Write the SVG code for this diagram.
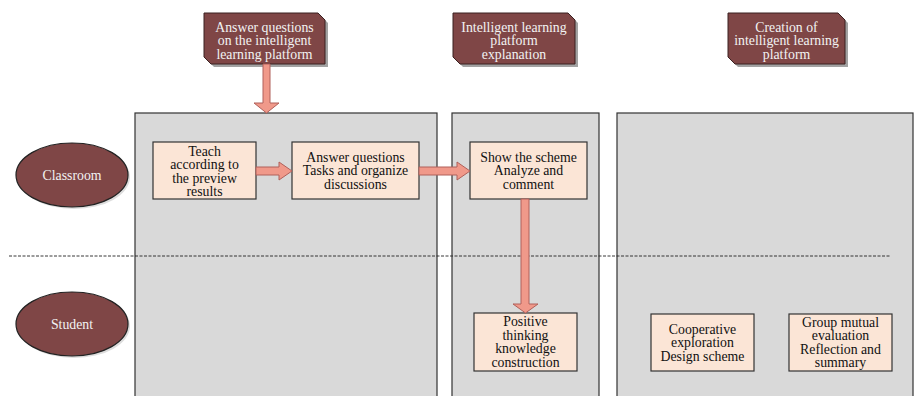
<svg xmlns="http://www.w3.org/2000/svg" width="915" height="396" viewBox="0 0 915 396">
<style>
.panel{fill:#d9d9d9;stroke:#333;stroke-width:1.2}
.tag{fill:#7f4646;stroke:#3a2020;stroke-width:1}
.shadow{fill:#555;opacity:0.55}
.ell{fill:#7f4646;stroke:#222;stroke-width:1.2}
.box{fill:#fbe5d6;stroke:#333;stroke-width:1.2}
.arr{fill:#f0998a;stroke:#b0605a;stroke-width:1}
text{font-size:13.8px;text-anchor:middle}
.lt{fill:#f2f2f2}
.dk{fill:#111}
</style>
<rect width="915" height="396" fill="#fff"/>
<g id="lanes">
<rect class="panel" x="135" y="113" width="302" height="290"/>
<rect class="panel" x="452" y="113" width="147" height="290"/>
<rect class="panel" x="617" y="113" width="296" height="290"/>
<line x1="9" y1="256" x2="890" y2="256" stroke="#222" stroke-width="0.9" stroke-dasharray="3,1.5"/>
</g>
<g font-family="Liberation Serif, DejaVu Serif, Times New Roman, serif">
<g id="tag1">
<polygon class="shadow" points="207,16 321,16 328,23 328,67 214,67 207,60"/>
<polygon class="tag" points="204,13 318,13 325,20 325,64 211,64 204,57"/>
<text class="lt" x="264.5" y="31.5">Answer questions</text>
<text class="lt" x="264.5" y="45">on the intelligent</text>
<text class="lt" x="264.5" y="58.5">learning platform</text>
</g>
<g id="tag2">
<polygon class="shadow" points="456,16 571,16 578,23 578,67 463,67 456,60"/>
<polygon class="tag" points="453,13 568,13 575,20 575,64 460,64 453,57"/>
<text class="lt" x="514" y="31.5">Intelligent learning</text>
<text class="lt" x="514" y="45">platform</text>
<text class="lt" x="514" y="58.5">explanation</text>
</g>
<g id="tag3">
<polygon class="shadow" points="731,16 841,16 848,23 848,67 738,67 731,60"/>
<polygon class="tag" points="728,13 838,13 845,20 845,64 735,64 728,57"/>
<text class="lt" x="786.5" y="31.5">Creation of</text>
<text class="lt" x="786.5" y="45">intelligent learning</text>
<text class="lt" x="786.5" y="58.5">platform</text>
</g>
<g id="classroom">
<ellipse cx="74" cy="177" rx="56" ry="32" fill="#bbb" opacity="0.5"/>
<ellipse class="ell" cx="72" cy="175" rx="56" ry="32"/>
<text class="lt" x="72" y="180">Classroom</text>
</g>
<g id="student">
<ellipse cx="74" cy="326" rx="56" ry="32" fill="#bbb" opacity="0.5"/>
<ellipse class="ell" cx="72" cy="324" rx="56" ry="32"/>
<text class="lt" x="72" y="328.5">Student</text>
</g>
<g id="teach">
<rect class="box" x="153" y="142" width="103" height="57"/>
<text class="dk" x="204.5" y="155.5">Teach</text>
<text class="dk" x="204.5" y="169">according to</text>
<text class="dk" x="204.5" y="182.5">the preview</text>
<text class="dk" x="204.5" y="196">results</text>
</g>
<g id="answer">
<rect class="box" x="292" y="142" width="127" height="57"/>
<text class="dk" x="355.5" y="161.5">Answer questions</text>
<text class="dk" x="355.5" y="175">Tasks and organize</text>
<text class="dk" x="355.5" y="188.5">discussions</text>
</g>
<g id="show">
<rect class="box" x="470" y="142" width="117" height="57"/>
<text class="dk" x="528.5" y="161.5">Show the scheme</text>
<text class="dk" x="528.5" y="175">Analyze and</text>
<text class="dk" x="528.5" y="188.5">comment</text>
</g>
<g id="positive">
<rect class="box" x="474" y="313" width="103" height="58"/>
<text class="dk" x="525.5" y="326">Positive</text>
<text class="dk" x="525.5" y="339.5">thinking</text>
<text class="dk" x="525.5" y="353">knowledge</text>
<text class="dk" x="525.5" y="366.5">construction</text>
</g>
<g id="cooperative">
<rect class="box" x="651" y="314" width="103" height="57"/>
<text class="dk" x="702.5" y="333.5">Cooperative</text>
<text class="dk" x="702.5" y="347">exploration</text>
<text class="dk" x="702.5" y="360.5">Design scheme</text>
</g>
<g id="group">
<rect class="box" x="789" y="314" width="103" height="57"/>
<text class="dk" x="840.5" y="326.5">Group mutual</text>
<text class="dk" x="840.5" y="340">evaluation</text>
<text class="dk" x="840.5" y="353.5">Reflection and</text>
<text class="dk" x="840.5" y="367">summary</text>
</g>
</g>
<g id="connectors">
<polygon class="arr" points="263,64 270,64 270,103 279,103 266.5,113 254,103 263,103"/>
<polygon class="arr" points="256,167 279,167 279,162 292,171 279,180 279,175 256,175"/>
<polygon class="arr" points="419,167 457,167 457,162 470,171 457,180 457,175 419,175"/>
<polygon class="arr" points="521,199 529,199 529,304 538,304 525.5,313 513,304 521,304"/>
</g>
</svg>
